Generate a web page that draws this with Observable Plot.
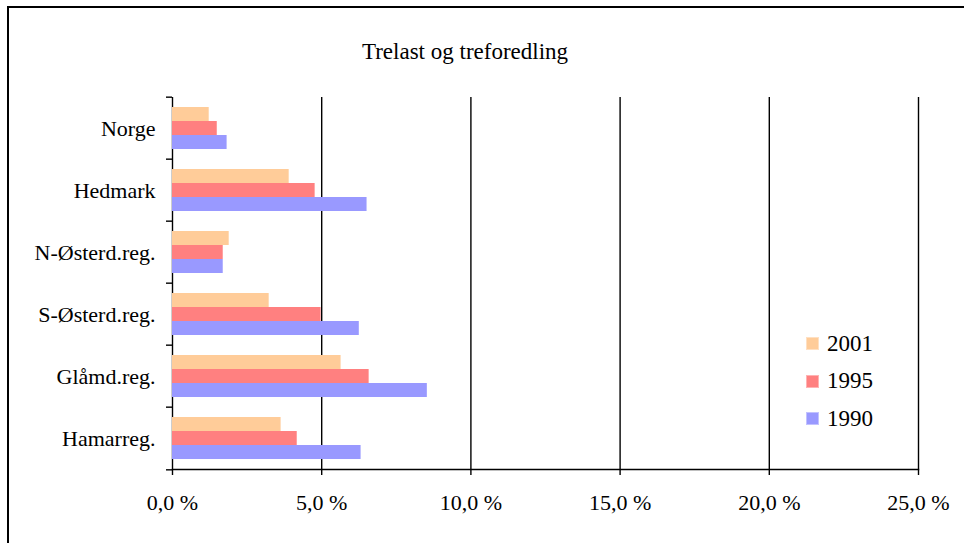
<!DOCTYPE html>
<html><head><meta charset="utf-8">
<script src="https://cdn.jsdelivr.net/npm/d3@7"></script>
<script src="https://cdn.jsdelivr.net/npm/@observablehq/plot@0.6"></script>
<style>
body{margin:0;background:#fff;}
#wrap{position:relative;width:964px;height:543px;overflow:hidden;background:#fff;font-family:"Liberation Serif","Times New Roman",serif;color:#000;}
#border{position:absolute;left:7px;top:6px;width:1000px;height:1000px;border-left:2px solid #000;border-top:2px solid #000;}
#title{position:absolute;left:0;width:930px;top:38px;text-align:center;font-size:23px;line-height:28px;font-family:"Liberation Serif",serif;}
#chart{position:absolute;left:0;top:0;}
#legend{position:absolute;left:806px;top:325px;font-family:"Liberation Serif",serif;}
.li{display:flex;align-items:center;height:37.5px;font-size:23px;}
.sw{width:13px;height:13px;margin-right:8px;box-sizing:border-box;border:1px solid rgba(255,255,255,0.4);}
</style>
</head><body>
<div id="wrap">
  <div id="border"></div>
  <div id="chart"></div>
  <div id="title">Trelast og treforedling</div>
  <div id="legend"></div>
</div>
<script>
const regions = ["Norge", "Hedmark", "N-Østerd.reg.", "S-Østerd.reg.", "Glåmd.reg.", "Hamarreg."];
const years = ["2001", "1995", "1990"];
const v2001 = [1.23, 3.91, 1.90, 3.24, 5.65, 3.64];
const v1995 = [1.50, 4.78, 1.70, 4.98, 6.59, 4.18];
const v1990 = [1.83, 6.52, 1.70, 6.26, 8.54, 6.32];
const colors = ["#FFCC99", "#FF8080", "#9999FF"];
const xTicks = [0, 5, 10, 15, 20, 25];

const series = {"2001": v2001, "1995": v1995, "1990": v1990};
const data = [];
regions.forEach((r, i) => years.forEach(y => data.push({region: r, year: y, value: series[y][i]})));

const W = 964, H = 543, mt = 95, mb = 72, ml = 172, mr = 46;
const step = (H - mt - mb) / regions.length;
const fmt = d => d.toFixed(1).replace(".", ",") + " %";

const chart = Plot.plot({
  width: W, height: H,
  marginTop: mt, marginBottom: mb, marginLeft: ml, marginRight: mr,
  style: {fontFamily: "'Liberation Serif', 'Times New Roman', serif", fontSize: "22px", color: "#000", background: "transparent"},
  x: {domain: [0, 25]},
  y: {domain: years, paddingInner: 0, paddingOuter: 0.64, axis: null},
  fy: {domain: regions, padding: 0},
  color: {domain: years, range: colors},
  marks: [
    Plot.ruleX(xTicks, {stroke: "#000", strokeWidth: 1.4}),
    Plot.barX(data, {x: "value", y: "year", fy: "region", fill: "year"}),
    Plot.axisFy({anchor: "left", tickSize: 0, tickPadding: 17, label: null, fontSize: 22, fontFamily: "Liberation Serif"}),
    Plot.axisFy({anchor: "left", tickSize: 6, tickFormat: () => "", label: null, strokeWidth: 1.4, dy: -step / 2}),
    Plot.axisFy({anchor: "left", ticks: [regions[regions.length - 1]], tickSize: 6, tickFormat: () => "", label: null, strokeWidth: 1.4, dy: step / 2}),
    Plot.frame({anchor: "bottom", facetAnchor: "bottom", stroke: "#000", strokeWidth: 1.4}),
    Plot.axisX({ticks: xTicks, tickSize: 6, tickPadding: 19, tickFormat: fmt, label: null, fontSize: 22, fontFamily: "Liberation Serif", strokeWidth: 1.4})
  ]
});
document.getElementById("chart").appendChild(chart);

const legend = document.getElementById("legend");
years.forEach((y, i) => {
  const row = document.createElement("div");
  row.className = "li";
  const sw = document.createElement("div");
  sw.className = "sw";
  sw.style.background = colors[i];
  const t = document.createElement("span");
  t.textContent = y;
  row.appendChild(sw); row.appendChild(t);
  legend.appendChild(row);
});
</script>
</body></html>
